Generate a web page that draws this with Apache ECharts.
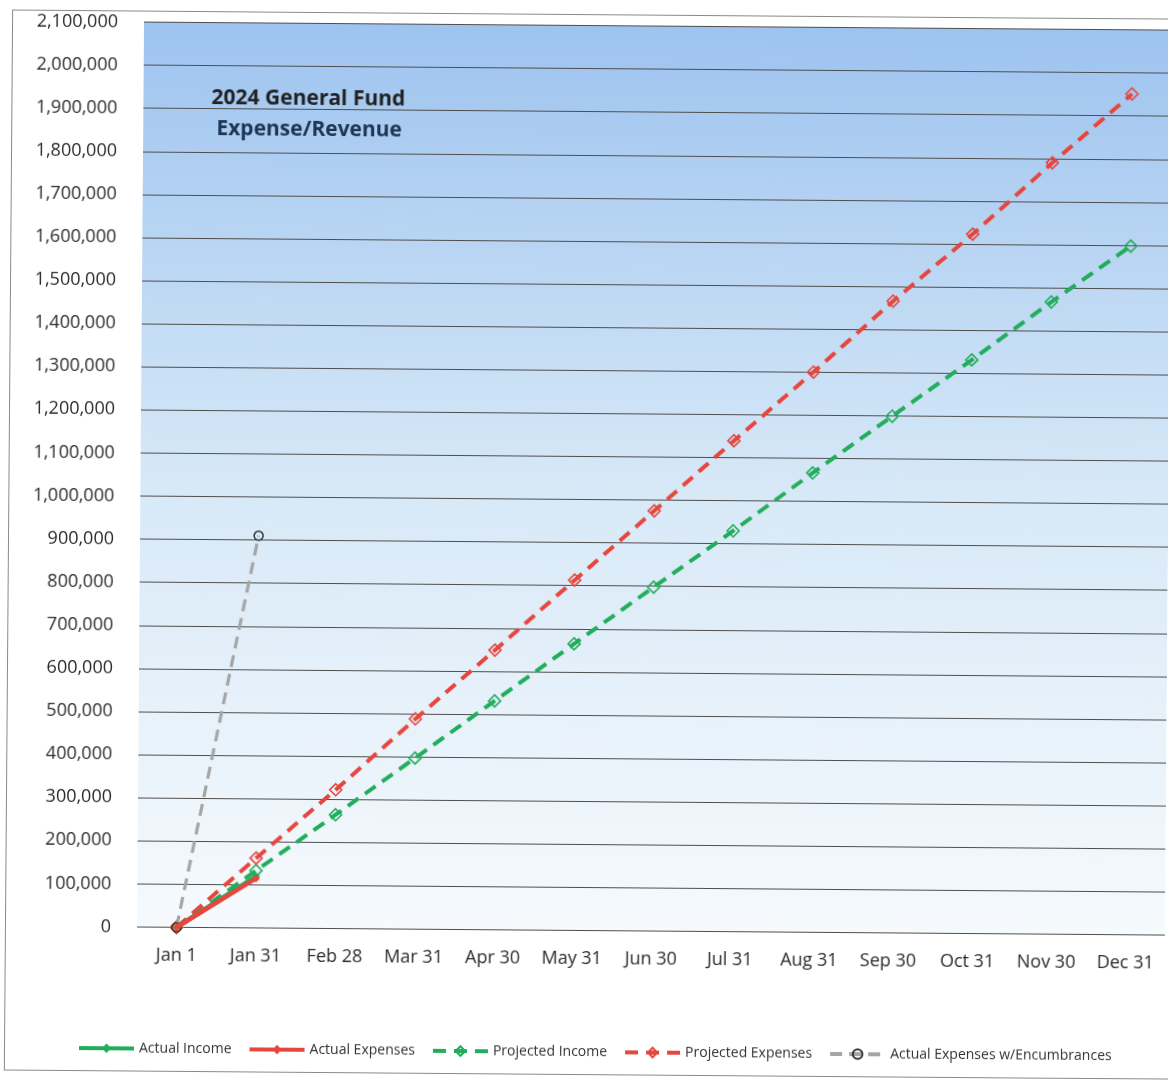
<!DOCTYPE html>
<html>
<head>
<meta charset="utf-8">
<title>2024 General Fund Expense/Revenue</title>
<script src="https://cdn.jsdelivr.net/npm/echarts@6/dist/echarts.min.js"></script>
<style>
  html, body { margin: 0; padding: 0; background: #ffffff; overflow: hidden; }
  #page { position: relative; width: 1168px; height: 1082px; transform: rotate(0.45deg); transform-origin: 584px 541px; }
  #frame { position: absolute; left: 8px; top: 14px; width: 1220px; height: 1061px; border: 1px solid #8a8a8a; box-sizing: border-box; }
  #chart { position: absolute; left: 0; top: 0; width: 1168px; height: 1082px; }
</style>
</head>
<body>
<div id="page">
  <div id="frame"></div>
  <div id="chart"></div>
</div>
<script>
// Month-end checkpoints for the fiscal year
const categories = ['Jan 1', 'Jan 31', 'Feb 28', 'Mar 31', 'Apr 30', 'May 31', 'Jun 30',
                    'Jul 31', 'Aug 31', 'Sep 30', 'Oct 31', 'Nov 30', 'Dec 31'];

// Year-to-date totals (dollars)
const actualIncome      = [0, 120000];
const actualExpenses    = [0, 115000];
const projectedIncome   = [0, 133000, 264000, 397000, 531000, 665000, 798000,
                           930000, 1066000, 1199000, 1331000, 1467000, 1598000];
const projectedExpenses = [0, 162000, 322000, 488000, 649000, 813000, 975000,
                           1139000, 1300000, 1466000, 1623000, 1790000, 1951000];
const actualWithEncumbrances = [0, 910000];

// Value axis range
const yMin = 0;
const yMax = 2100000;
const yStep = 100000;

const titleLines = ['2024 General Fund', 'Expense/Revenue'];

const FONT = '"Open Sans", "Liberation Sans", sans-serif';
const GREEN = '#21ad5b';
const RED = '#e6463d';
const GREY = '#a5a5a5';

const chart = echarts.init(document.getElementById('chart'), null, { renderer: 'canvas' });

const hollowDiamond = (color) => ({
  symbol: 'diamond',
  symbolSize: 12,
  itemStyle: { color: 'rgba(255,255,255,0)', borderColor: color, borderWidth: 1.6 }
});

chart.setOption({
  animation: false,
  textStyle: { fontFamily: FONT },
  grid: {
    left: 140, top: 25.5, width: 1031, height: 905,
    show: true,
    borderWidth: 0,
    backgroundColor: new echarts.graphic.LinearGradient(0, 0, 0, 1, [
      { offset: 0, color: '#9dc3ef' },
      { offset: 0.5, color: '#d6e8f7' },
      { offset: 1, color: '#f6fafd' }
    ])
  },
  xAxis: {
    type: 'category',
    data: categories,
    boundaryGap: true,
    axisLine: { show: false },
    axisTick: { show: false },
    axisLabel: { color: '#2b2b2b', fontSize: 18, fontFamily: FONT, margin: 19 }
  },
  yAxis: {
    type: 'value',
    min: yMin,
    max: yMax,
    interval: yStep,
    axisLine: { show: false },
    axisTick: { show: false },
    axisLabel: {
      color: '#2b2b2b', fontSize: 18, fontFamily: FONT, margin: 26,
      formatter: (v) => v.toLocaleString('en-US')
    },
    splitLine: { show: true, lineStyle: { color: '#4e4e4e', width: 1.2 } }
  },
  legend: {
    left: 76,
    top: 1040,
    itemWidth: 55,
    itemHeight: 12,
    itemGap: 16,
    lineStyle: { width: 4 },
    textStyle: { color: '#333', fontSize: 14, fontFamily: FONT },
    data: ['Actual Income', 'Actual Expenses', 'Projected Income', 'Projected Expenses',
           'Actual Expenses w/Encumbrances']
  },
  graphic: [
    {
      type: 'text', x: 305, y: 101, z: 10,
      style: { text: titleLines[0], fill: '#222222', fontSize: 21, fontWeight: 'bold',
               fontFamily: FONT, align: 'center', verticalAlign: 'middle' }
    },
    {
      type: 'text', x: 306, y: 132, z: 10,
      style: { text: titleLines[1], fill: '#1d3453', fontSize: 21, fontWeight: 'bold',
               fontFamily: FONT, align: 'center', verticalAlign: 'middle' }
    }
  ],
  series: [
    {
      name: 'Projected Income', type: 'line', data: projectedIncome, z: 2,
      lineStyle: { color: GREEN, width: 4, type: [13, 8] },
      ...hollowDiamond(GREEN)
    },
    {
      name: 'Projected Expenses', type: 'line', data: projectedExpenses, z: 2,
      lineStyle: { color: RED, width: 4, type: [13, 8] },
      ...hollowDiamond(RED)
    },
    {
      name: 'Actual Expenses w/Encumbrances', type: 'line', data: actualWithEncumbrances, z: 3,
      lineStyle: { color: GREY, width: 3.2, type: [12, 7] },
      symbol: 'circle', symbolSize: 9,
      itemStyle: { color: 'rgba(255,255,255,0)', borderColor: '#333333', borderWidth: 1.5 }
    },
    {
      name: 'Actual Income', type: 'line', data: actualIncome, z: 4,
      lineStyle: { color: GREEN, width: 4.5 },
      symbol: 'diamond', symbolSize: 8,
      itemStyle: { color: GREEN }
    },
    {
      name: 'Actual Expenses', type: 'line', data: actualExpenses, z: 4,
      lineStyle: { color: RED, width: 4.5 },
      symbol: 'diamond', symbolSize: 8,
      itemStyle: { color: RED }
    }
  ]
});
</script>
</body>
</html>
